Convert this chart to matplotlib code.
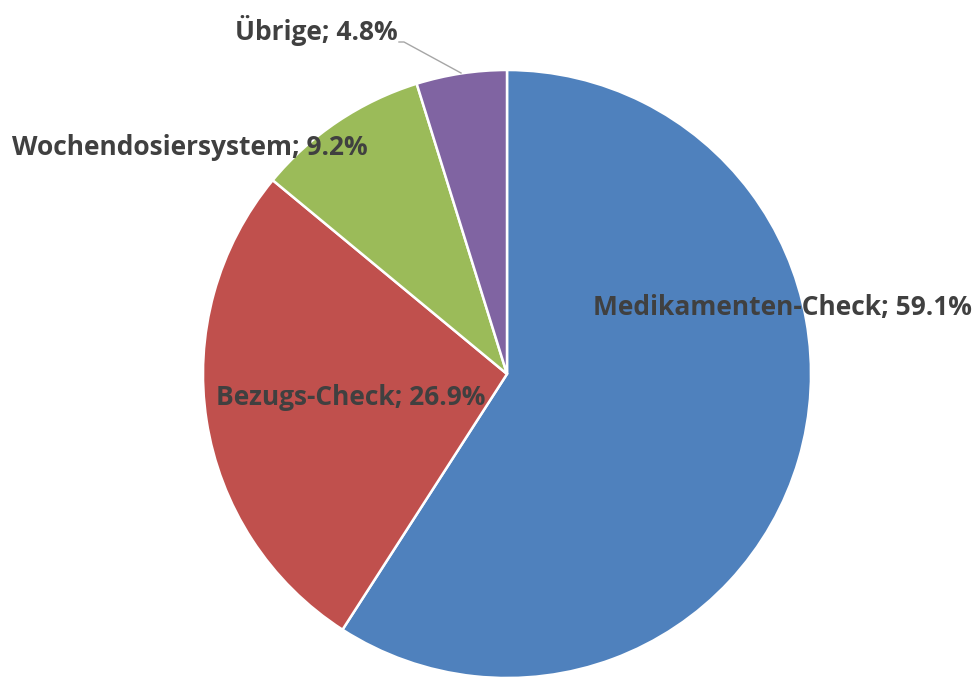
import matplotlib.pyplot as plt

# Daten
kategorien = ['Medikamenten-Check', 'Bezugs-Check', 'Wochendosiersystem', 'Übrige']
anteile = [59.1, 26.9, 9.2, 4.8]
farben = ['#4F81BD', '#C0504D', '#9BBB59', '#8064A2']

# Label-Positionen (Pixel, Ursprung oben links)
label_pos = [(782, 315), (351, 405), (190, 155), (316, 40)]

W, H = 975, 677
fig = plt.figure(figsize=(W / 100, H / 100), dpi=100)
ax = fig.add_axes([0, 0, 1, 1])

cx, cy, r = 507, 374, 304
ax.pie(anteile, colors=farben, startangle=90, counterclock=False,
       center=(cx, H - cy), radius=r, frame=True,
       wedgeprops=dict(edgecolor='white', linewidth=1.8))

ax.set_xlim(0, W)
ax.set_ylim(0, H)
ax.set_aspect('equal')
ax.axis('off')

for name, wert, (x, y) in zip(kategorien, anteile, label_pos):
    ax.text(x, H - y, f'{name}; {wert:.1f}%', ha='center', va='baseline',
            fontsize=19, fontweight='bold', color='#404040', family='Open Sans')

# Führungslinie für "Übrige"
ax.plot([399, 404, 461], [H - 42, H - 42, H - 73], color='#A6A6A6', lw=1)

fig.savefig('out.png', dpi=100)
